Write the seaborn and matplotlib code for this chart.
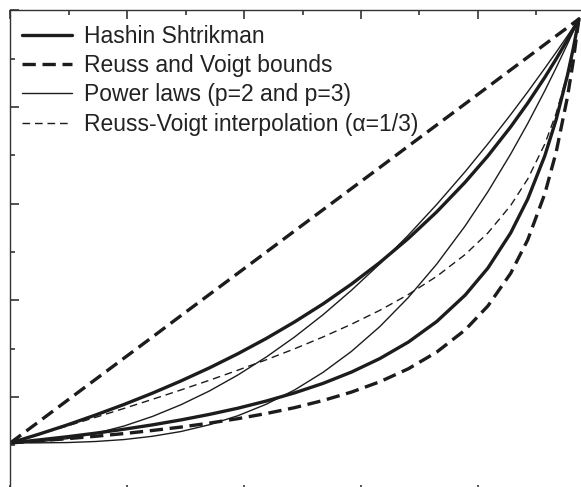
import numpy as np
import pandas as pd
import matplotlib
matplotlib.use("Agg")
import matplotlib.pyplot as plt
from matplotlib.ticker import FixedLocator, NullFormatter
import seaborn as sns

# Volume fraction of the stiff constituent
fraction = [0, 0.05, 0.1, 0.15, 0.2, 0.25, 0.3, 0.35, 0.4, 0.45, 0.5, 0.55, 0.6,
            0.65, 0.7, 0.75, 0.8, 0.84, 0.88, 0.91, 0.94, 0.96, 0.98, 0.99, 1.0]

# Effective modulus for each mixing model
voigt = [5.25, 7.44, 9.64, 11.83, 14.02, 16.21, 18.41, 20.60, 22.79, 24.98, 27.18, 29.37, 31.56,
         33.75, 35.95, 38.14, 40.33, 42.08, 43.84, 45.15, 46.47, 47.35, 48.22, 48.66, 49.10]
reuss = [5.25, 5.46, 5.69, 5.94, 6.22, 6.54, 6.89, 7.30, 7.76, 8.29, 8.90, 9.64, 10.51,
         11.58, 12.92, 14.65, 16.94, 19.42, 22.79, 26.25, 31.01, 35.32, 41.06, 44.72, 49.10]
hs_upper = [5.25, 6.15, 7.11, 8.14, 9.23, 10.40, 11.66, 13.01, 14.47, 16.05, 17.77, 19.63, 21.68,
            23.92, 26.40, 29.15, 32.22, 34.94, 37.94, 40.40, 43.06, 44.96, 46.97, 48.02, 49.10]
hs_lower = [5.25, 5.56, 5.89, 6.26, 6.67, 7.12, 7.63, 8.20, 8.84, 9.58, 10.43, 11.41, 12.58,
            13.98, 15.68, 17.81, 20.54, 23.34, 26.97, 30.47, 34.94, 38.69, 43.30, 46.02, 49.10]
power_p2 = [5.25, 5.36, 5.69, 6.24, 7.00, 7.99, 9.20, 10.62, 12.27, 14.13, 16.21, 18.51, 21.04,
            23.78, 26.74, 29.92, 33.31, 36.19, 39.21, 41.56, 44.00, 45.66, 47.36, 48.23, 49.10]
power_p3 = [5.25, 5.26, 5.29, 5.40, 5.60, 5.94, 6.43, 7.13, 8.06, 9.25, 10.73, 12.55, 14.72,
            17.29, 20.29, 23.75, 27.70, 31.24, 35.13, 38.29, 41.67, 44.05, 46.52, 47.80, 49.10]
rv_interp = [5.25, 6.12, 7.00, 7.90, 8.82, 9.76, 10.73, 11.73, 12.77, 13.85, 14.99, 16.21, 17.53,
             18.97, 20.60, 22.48, 24.74, 26.97, 29.81, 32.55, 36.16, 39.33, 43.45, 46.03, 49.10]

legend_labels = ["Hashin Shtrikman", "Reuss and Voigt bounds",
                 "Power laws (p=2 and p=3)", "Reuss-Voigt interpolation (\u03b1=1/3)"]

sns.set_theme(style="white")
plt.rcParams["font.family"] = ["Liberation Sans", "DejaVu Sans"]

ink = "#1c1c1c"
thick, thin = 2.4, 1.0

fig = plt.figure(figsize=(5.81, 4.87), dpi=100)
ax = fig.add_axes([10.3 / 581, (487 - 493.7) / 487, 584.5 / 581, 483.4 / 487])

df = pd.DataFrame({"fraction": fraction})
series = [
    (hs_upper, dict(lw=thick, ls="-"), legend_labels[0]),
    (hs_lower, dict(lw=thick, ls="-"), None),
    (voigt, dict(lw=thick, ls=(0, (4.0, 2.0))), legend_labels[1]),
    (reuss, dict(lw=thick, ls=(0, (4.0, 2.0))), None),
    (power_p2, dict(lw=thin, ls="-"), legend_labels[2]),
    (power_p3, dict(lw=thin, ls="-"), None),
    (rv_interp, dict(lw=thin, ls=(0, (5.5, 3.5))), legend_labels[3]),
]
for values, style, label in series:
    sns.lineplot(x=df["fraction"], y=values, ax=ax, color=ink, sort=False,
                 label=label, legend=False, **style)

ax.set_xlim(0, 1.028)
ax.set_ylim(0, 50)
ax.xaxis.set_major_locator(FixedLocator(np.linspace(0, 1.028, 6)))
ax.xaxis.set_minor_locator(FixedLocator(np.linspace(0, 1.028, 11)))
ax.yaxis.set_major_locator(FixedLocator(np.linspace(0, 50, 6)))
ax.yaxis.set_minor_locator(FixedLocator(np.linspace(0, 50, 11)))
ax.xaxis.set_major_formatter(NullFormatter())
ax.yaxis.set_major_formatter(NullFormatter())
ax.tick_params(which="both", direction="in", top=True, right=True, bottom=True, left=True,
               color="#222222", width=1.1)
ax.tick_params(which="major", length=6.5)
ax.tick_params(which="minor", length=3.5)
ax.set_xlabel("")
ax.set_ylabel("")
for sp in ax.spines.values():
    sp.set_color("#333333")
    sp.set_linewidth(1.0)

handles, labels = ax.get_legend_handles_labels()
leg = ax.legend(handles, labels, loc="upper left", frameon=False, fontsize=16.5,
                handlelength=2.2, handletextpad=0.5, labelspacing=0.27,
                borderaxespad=0, borderpad=0,
                bbox_to_anchor=(22 / 581, 1 - 25 / 487), bbox_transform=fig.transFigure)
for t in leg.get_texts():
    t.set_color("#222222")

fig.savefig("out.png", dpi=100)
